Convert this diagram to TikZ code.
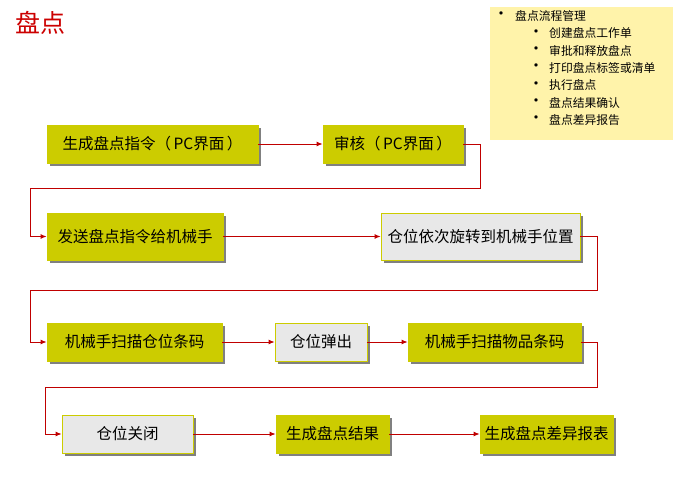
\documentclass[tikz,border=0pt]{standalone}
\usepackage{fontspec}
\setmainfont{Noto Sans CJK SC}
\usetikzlibrary{arrows.meta,shadows}
\definecolor{olivebox}{RGB}{204,204,0}
\definecolor{greybox}{RGB}{232,232,232}
\definecolor{shadowgrey}{RGB}{128,128,128}
\definecolor{notefill}{RGB}{255,243,170}
\definecolor{flowred}{RGB}{192,0,0}
\definecolor{titlered}{RGB}{204,0,0}

\begin{document}
\begin{tikzpicture}[x=1pt,y=-1pt,
  stepbox/.style={fill=olivebox,draw=olivebox,line width=0.8pt,inner sep=0pt,
    minimum height=38pt,font=\fontsize{15.5}{18}\selectfont,
    drop shadow={shadow xshift=3pt,shadow yshift=-3pt,fill=shadowgrey,opacity=1}},
  greystep/.style={stepbox,fill=greybox},
  flow/.style={draw=flowred,line width=0.9pt,-{Latex[length=6pt,width=5pt]}},
  notetext/.style={anchor=west,inner sep=0pt,font=\fontsize{11.8}{13}\selectfont},
  notebullet/.style={inner sep=0pt,font=\fontsize{16}{16}\selectfont}]
  \useasboundingbox (0,0) rectangle (685,483);
  % title and note
  \node[text=titlered,font=\fontsize{25}{28}\selectfont] (title) at (41,23) {盘点};
  \fill[notefill] (490,7) rectangle (673,140);
  \node[notebullet] (bul0) at (501,16) {•};
  \node[notetext] (n0) at (515,16) {盘点流程管理};
  \foreach \txt [count=\i] in {创建盘点工作单,审批和释放盘点,打印盘点标签或清单,执行盘点,盘点结果确认,盘点差异报告} {
    \node[notebullet] (bul\i) at (536,16+17.3*\i) {•};
    \node[notetext] (n\i) at (549,16+17.3*\i) {\txt};
  }
  % row 1
  \node[stepbox,minimum width=211pt] (gen) at (152.5,144) {生成盘点指令（\,PC界面\,）};
  \node[stepbox,minimum width=140pt] (audit) at (393,144) {审核（\,PC界面\,）};
  % row 2
  \node[stepbox,minimum width=176pt,minimum height=47pt] (send) at (135,236.5) {发送盘点指令给机械手};
  \node[greystep,minimum width=199pt,minimum height=47pt] (rotate) at (480.5,236.5) {仓位依次旋转到机械手位置};
  % row 3
  \node[stepbox,minimum width=175pt] (scanbin) at (134.5,342) {机械手扫描仓位条码};
  \node[greystep,minimum width=92pt] (eject) at (321,342) {仓位弹出};
  \node[stepbox,minimum width=173pt] (scanitem) at (494.5,342) {机械手扫描物品条码};
  % row 4
  \node[greystep,minimum width=131pt] (close) at (127.5,434) {仓位关闭};
  \node[stepbox,minimum width=113pt] (result) at (332.5,434) {生成盘点结果};
  \node[stepbox,minimum width=133pt] (report) at (546.5,434) {生成盘点差异报表};
  % connectors
  \draw[flow] (gen) -- (audit);
  \draw[flow] (audit.east) -- ++(17,0) |- ++(-450,44) |- (send.west);
  \draw[flow] (send) -- (rotate);
  \draw[flow] (rotate.east) -- ++(17,0) |- ++(-567,54) |- (scanbin.west);
  \draw[flow] (scanbin) -- (eject);
  \draw[flow] (eject) -- (scanitem);
  \draw[flow] (scanitem.east) -- ++(16,0) |- ++(-552,45) |- (close.west);
  \draw[flow] (close) -- (result);
  \draw[flow] (result) -- (report);
\end{tikzpicture}
\end{document}
